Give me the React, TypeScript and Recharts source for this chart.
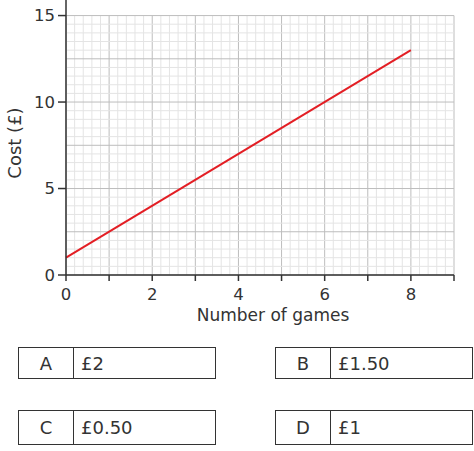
import React from 'react';
import { LineChart, Line, XAxis, YAxis, ReferenceLine } from 'recharts';

const games = [0, 8];
const cost = [1, 13];
const xTicks = [0, 1, 2, 3, 4, 5, 6, 7, 8, 9];
const yTicks = [0, 5, 10, 15];
const options = [
  { letter: 'A', value: '£2' },
  { letter: 'B', value: '£1.50' },
  { letter: 'C', value: '£0.50' },
  { letter: 'D', value: '£1' },
];

const FONT = '"DejaVu Sans", sans-serif';
const AXIS = '#333';

const data = games.map((g, i) => ({ x: g, y: cost[i] }));

// graph paper: minor every 0.2 games / 0.5 pounds, major every 1 / 2.5
const vMinor: number[] = [];
for (let i = 0; i <= 45; i++) vMinor.push(i / 5);
const hMinor: number[] = [];
for (let i = 0; i <= 30; i++) hMinor.push(i / 2);

const AnswerBox = ({ letter, value, left, top, height }: any) => (
  <div
    style={{
      position: 'absolute',
      left,
      top,
      width: 198,
      height,
      boxSizing: 'border-box',
      border: `1.5px solid ${AXIS}`,
      display: 'flex',
      alignItems: 'center',
      fontFamily: FONT,
      fontSize: 18,
      color: '#333',
    }}
  >
    <div
      style={{
        width: 55,
        height: '100%',
        borderRight: `1.5px solid ${AXIS}`,
        display: 'flex',
        alignItems: 'center',
        justifyContent: 'center',
        boxSizing: 'border-box',
      }}
    >
      {letter}
    </div>
    <div style={{ paddingLeft: 7 }}>{value}</div>
  </div>
);

export default function App() {
  return (
    <div style={{ position: 'absolute', left: 0, top: 0, width: 474, height: 451, background: '#fff', fontFamily: FONT }}>
      <LineChart width={474} height={330} data={data} margin={{ top: 0, right: 20, left: 0, bottom: 0 }}>
        {vMinor.map((v, i) => (
          <ReferenceLine
            key={`v${i}`}
            segment={[{ x: v, y: 0 }, { x: v, y: 15 }]}
            stroke={i % 5 === 0 ? '#bdbdbd' : '#e4e4e4'}
            strokeWidth={1}
          />
        ))}
        {hMinor.map((h, i) => (
          <ReferenceLine
            key={`h${i}`}
            segment={[{ x: 0, y: h }, { x: 9, y: h }]}
            stroke={i % 5 === 0 ? '#bdbdbd' : '#e4e4e4'}
            strokeWidth={1}
          />
        ))}
        <XAxis
          type="number"
          dataKey="x"
          domain={[0, 9]}
          ticks={xTicks}
          interval={0}
          height={55}
          tickSize={6}
          tickMargin={7}
          tickFormatter={(v: number) => (v % 2 === 0 ? String(v) : '')}
          tick={{ fill: '#333', fontSize: 16.5, fontFamily: FONT }}
          axisLine={{ stroke: AXIS, strokeWidth: 1.5 }}
          tickLine={{ stroke: AXIS, strokeWidth: 1.5 }}
          label={{
            content: () => (
              <text x={273} y={321} textAnchor="middle" fill="#333" fontSize={17} fontFamily={FONT}>
                Number of games
              </text>
            ),
          }}
        />
        <YAxis
          type="number"
          domain={[0, 15.9]}
          ticks={yTicks}
          interval={0}
          width={66}
          tickSize={8}
          tickMargin={3}
          tick={{ fill: '#333', fontSize: 16.5, fontFamily: FONT }}
          axisLine={{ stroke: AXIS, strokeWidth: 1.5 }}
          tickLine={{ stroke: AXIS, strokeWidth: 1.5 }}
          label={{
            content: () => (
              <text
                transform="translate(21,143) rotate(-90)"
                textAnchor="middle"
                fill="#333"
                fontSize={18}
                fontFamily={FONT}
              >
                Cost (£)
              </text>
            ),
          }}
        />
        <Line type="linear" dataKey="y" stroke="#e31e24" strokeWidth={2} dot={false} isAnimationActive={false} />
      </LineChart>
      {options.map((o, i) => (
        <AnswerBox
          key={o.letter}
          letter={o.letter}
          value={o.value}
          left={i % 2 === 0 ? 18 : 275}
          top={i < 2 ? 347 : 410}
          height={i < 2 ? 32 : 35}
        />
      ))}
    </div>
  );
}
